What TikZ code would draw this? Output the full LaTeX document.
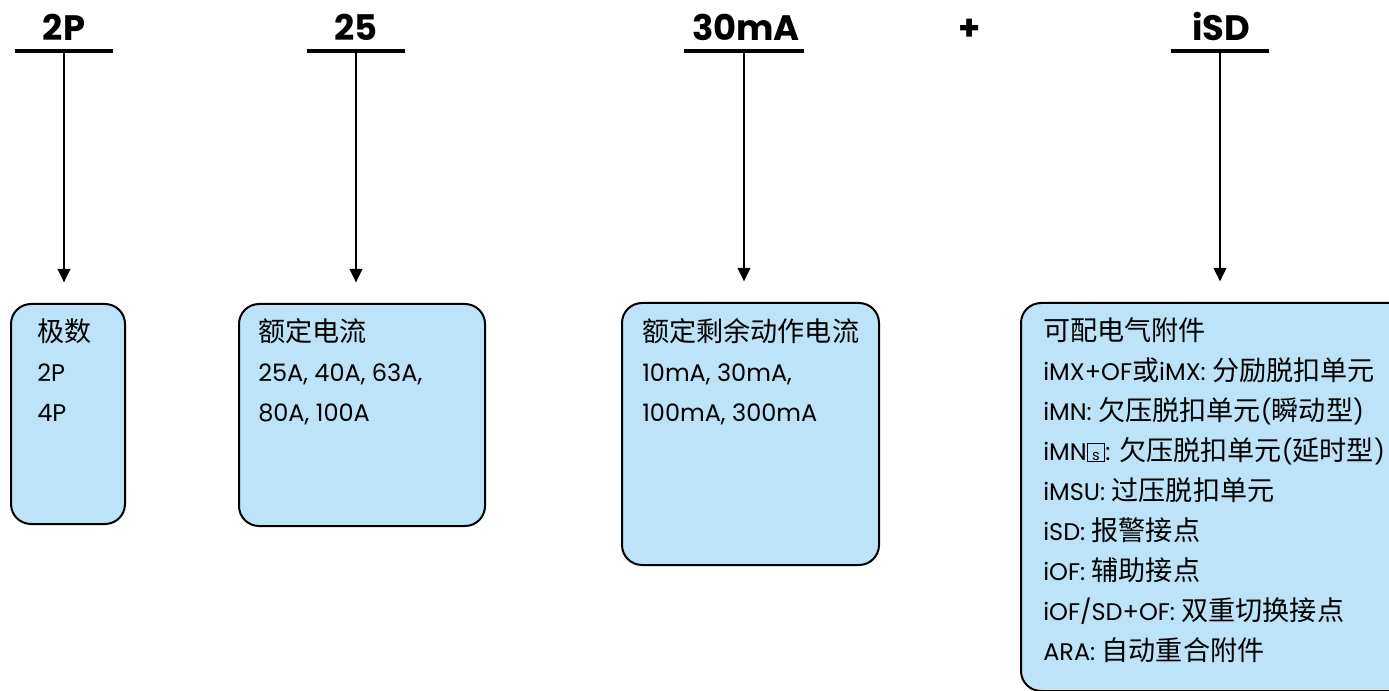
\documentclass[tikz,border=0pt]{standalone}
\usepackage{fontspec}
\setmainfont{Poppins}
\newfontfamily\cjk[Scale=1.13]{Noto Sans CJK SC}
\usetikzlibrary{positioning, arrows.meta}
\definecolor{cardblue}{RGB}{189,227,248}
\newcommand{\sqbox}{\raisebox{0pt}{\setlength{\fboxsep}{0.8pt}\setlength{\fboxrule}{0.7pt}\fbox{\makebox[11pt]{\rule{0pt}{11pt}\fontsize{11}{11}\selectfont s}}}}

\begin{document}
\begin{tikzpicture}[x=0.75pt, y=-0.75pt,
    head/.style={font=\fontsize{26.5}{30}\selectfont\bfseries, anchor=base, inner sep=0pt},
    bar/.style={line width=3pt},
    card/.style={draw, line width=1.5pt, rounded corners=15pt, fill=cardblue, anchor=north west, inner sep=0pt},
    cardtext/.style={anchor=north west, align=left, font=\fontsize{18}{30}\selectfont, inner sep=0pt},
    link/.style={-{Triangle[width=9.5pt,length=10pt]}, line width=1.1pt, shorten >=15.5pt}]
    \useasboundingbox (0,0) rectangle (1389,691);

    % headings
    \node[head] (h1) at (64,41) {2P};
    \node[head] (h2) at (356,41) {25};
    \node[head] (h3) at (746,41) {30mA};
    \node[head] (plus) at (970,41) {+};
    \node[head] (h4) at (1221,41) {iSD};

    % bars under headings
    \coordinate (k1) at (64,51);
    \coordinate (k2) at (356,51);
    \coordinate (k3) at (744,51);
    \coordinate (k4) at (1220,51);
    \draw[bar] ([xshift=-37pt]k1) -- ([xshift=37pt]k1);
    \draw[bar] ([xshift=-37pt]k2) -- ([xshift=37pt]k2);
    \draw[bar] ([xshift=-45pt]k3) -- ([xshift=45pt]k3);
    \draw[bar] ([xshift=-37pt]k4) -- ([xshift=37pt]k4);

    % boxes
    \node[card, minimum width=85.5pt, minimum height=165pt] (b1) at (10,303) {};
    \node[card, minimum width=184.5pt, minimum height=166.5pt] (b2) at (238,303) {};
    \node[card, minimum width=192.75pt, minimum height=196.5pt] (b3) at (621,302) {};
    \node[card, minimum width=292.5pt, minimum height=291pt] (b4) at (1020,302) {};

    \node[cardtext] (t1) at (37,318) {{\cjk 极数}\\2P\\4P};
    \node[cardtext] (t2) at (258,318) {{\cjk 额定电流}\\25A, 40A, 63A,\\80A, 100A};
    \node[cardtext] (t3) at (642,318) {{\cjk 额定剩余动作电流}\\10mA, 30mA,\\100mA, 300mA};
    \node[cardtext] (t4) at (1043,317) {{\cjk 可配电气附件}\\
        iMX+OF{\cjk 或}iMX: {\cjk 分励脱扣单元}\\
        iMN: {\cjk 欠压脱扣单元}({\cjk 瞬动型})\\
        iMN\sqbox: {\cjk 欠压脱扣单元}({\cjk 延时型})\\
        iMSU: {\cjk 过压脱扣单元}\\
        iSD: {\cjk 报警接点}\\
        iOF: {\cjk 辅助接点}\\
        iOF/SD+OF: {\cjk 双重切换接点}\\
        ARA: {\cjk 自动重合附件}};

    % arrows
    \draw[link] (k1) -- (b1.north -| k1);
    \draw[link] (k2) -- (b2.north -| k2);
    \draw[link] (k3) -- (b3.north -| k3);
    \draw[link] (k4) -- (b4.north -| k4);
\end{tikzpicture}
\end{document}
